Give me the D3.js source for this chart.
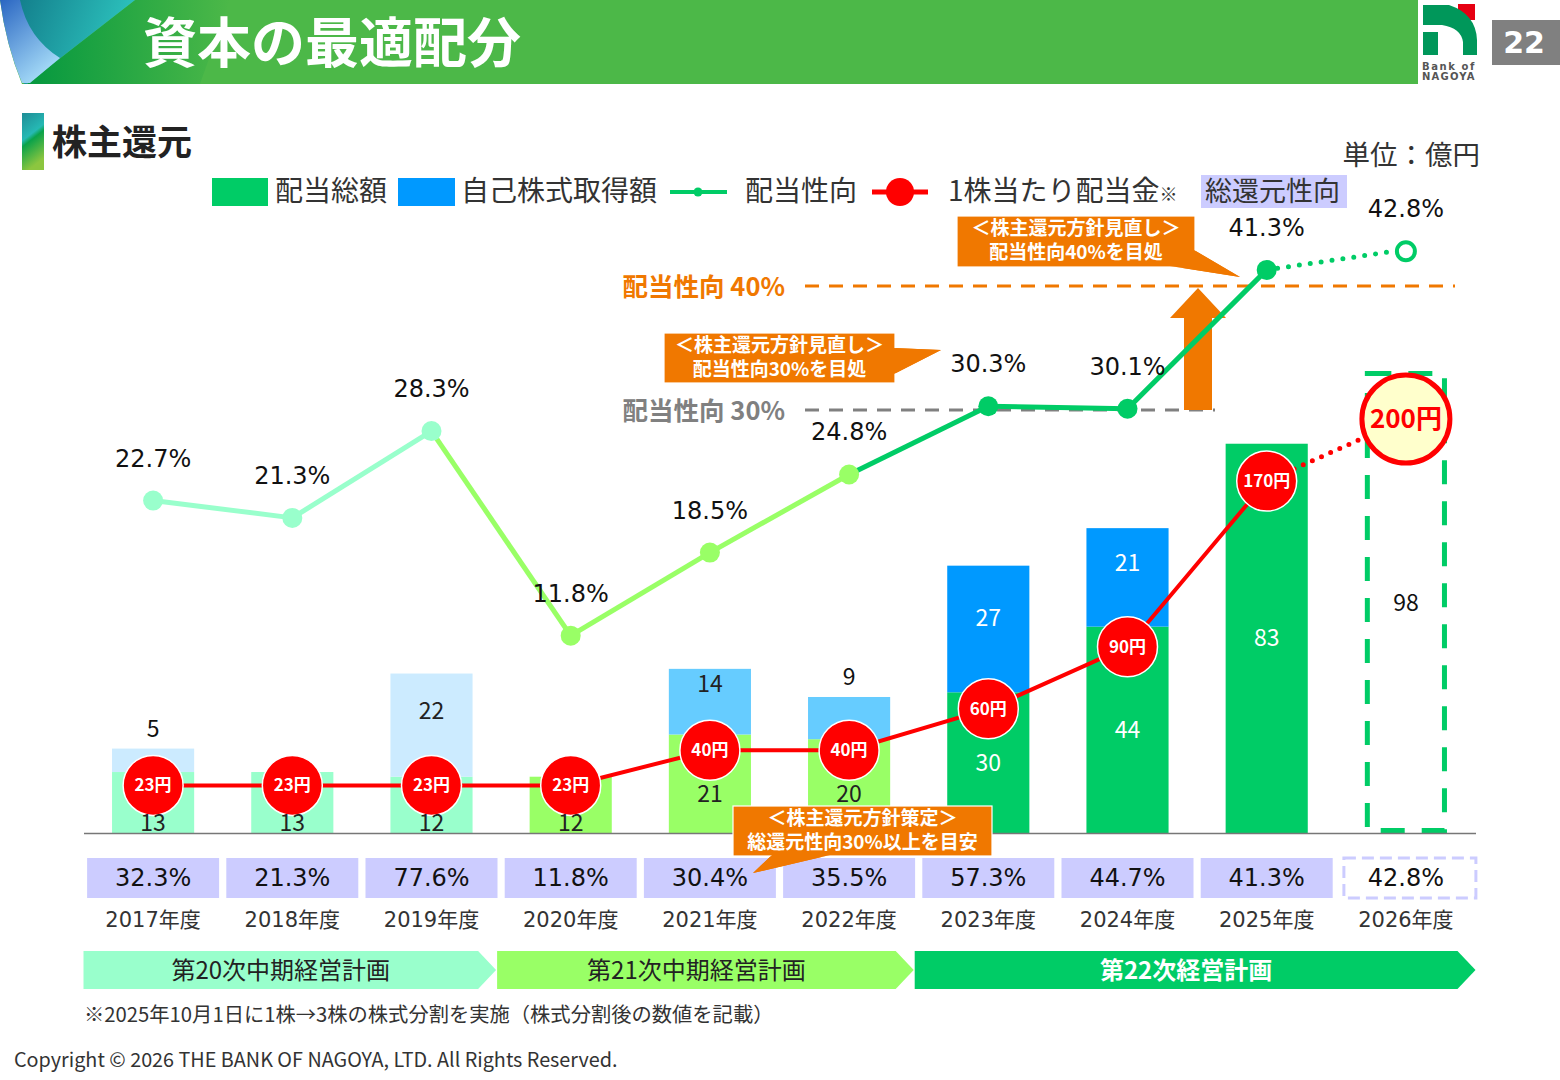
<!DOCTYPE html>
<html>
<head>
<meta charset="utf-8">
<script src="https://cdn.jsdelivr.net/npm/d3@7"></script>
<style>
  body { margin: 0; background: #fff; }
  text { font-family: 'Noto Sans CJK JP', sans-serif; }
  .num { font-family: 'DejaVu Sans', 'Noto Sans CJK JP', sans-serif; }
</style>
</head>
<body>
<script>
// データ
const years = ['2017年度', '2018年度', '2019年度', '2020年度', '2021年度', '2022年度', '2023年度', '2024年度', '2025年度', '2026年度'];
const dividendTotal = [13, 13, 12, 12, 21, 20, 30, 44, 83, 98];      // 配当総額（億円）
const buyback = [5, 0, 22, 0, 14, 9, 27, 21, 0, 0];                   // 自己株式取得額（億円）
const payoutRatio = [22.7, 21.3, 28.3, 11.8, 18.5, 24.8, 30.3, 30.1, 41.3, 42.8]; // 配当性向（%）
const dps = [23, 23, 23, 23, 40, 40, 60, 90, 170, 200];               // 1株当たり配当金（円）
const totalReturnRatio = [32.3, 21.3, 77.6, 11.8, 30.4, 35.5, 57.3, 44.7, 41.3, 42.8]; // 総還元性向（%）
const planOf = [20, 20, 20, 21, 21, 21, 22, 22, 22, 22];
const plans = [
  { name: '第20次中期経営計画', first: 0, last: 2 },
  { name: '第21次中期経営計画', first: 3, last: 5 },
  { name: '第22次経営計画', first: 6, last: 9 }
];
const forecastIndex = 9;
const targetLines = [
  { value: 40, label: '配当性向 40%' },
  { value: 30, label: '配当性向 30%' }
];

const colors = {
  20: { div: '#99FFCC', buy: '#CCEBFF', line: '#99FFCC', text: '#222' },
  21: { div: '#99FF66', buy: '#66CCFF', line: '#99FF66', text: '#222' },
  22: { div: '#00CC66', buy: '#0099FF', line: '#00CC66', text: '#fff' }
};
const orange = '#F07800';

// svg領域設定
const svgWidth = 1560;
const svgHeight = 1080;
const svg = d3.select('body')
  .append('svg')
  .attr('width', svgWidth)
  .attr('height', svgHeight);

const defs = svg.append('defs');
function grad(id, stops, x2, y2) {
  const g = defs.append('linearGradient').attr('id', id)
    .attr('x1', 0).attr('y1', 0).attr('x2', x2).attr('y2', y2);
  stops.forEach(([o, c]) => g.append('stop').attr('offset', o).attr('stop-color', c));
}
grad('gBlue', [[0, '#2a66c2'], [1, '#a6dcf8']], 0.6, 1);
grad('gTeal', [[0, '#137f8c'], [1, '#2ec6c0']], 1, 0.3);
grad('gGreen', [[0, '#05983f'], [1, '#4CB848']], 1, 0);
grad('gSide', [[0, '#1e8c96'], [0.45, '#26b9b4'], [0.55, '#0aa24a'], [1, '#8cc63f']], 0.3, 1);

// ヘッダー
const header = svg.append('g');
header.append('path').attr('d', 'M0,0 H1418 V84 H22 Q6,45 0,0 Z').attr('fill', '#4CB848');
header.append('path').attr('d', 'M135,0 L27,84 H200 L230,0 Z').attr('fill', 'url(#gGreen)');
header.append('path').attr('d', 'M18,0 H135 L27,84 H24 Z').attr('fill', 'url(#gTeal)');
header.append('path').attr('d', 'M0,0 H20 Q28,38 60,58 L30,83 H22 Q6,45 0,0 Z').attr('fill', 'url(#gBlue)');
header.append('text')
  .attr('x', 143).attr('y', 63)
  .attr('fill', '#fff').attr('font-size', 54).attr('font-weight', 700)
  .text('資本の最適配分');

// ロゴ
const logo = svg.append('g');
logo.append('rect').attr('x', 1458).attr('y', 4).attr('width', 17).attr('height', 16).attr('fill', '#E60012');
logo.append('path').attr('d', 'M1423,5 H1449 Q1476,14 1477,40 V55 H1463 V42 Q1461,28 1442,25 H1423 Z').attr('fill', '#00975A');
logo.append('rect').attr('x', 1423).attr('y', 32).attr('width', 15).attr('height', 23).attr('fill', '#00975A');
logo.append('text').attr('x', 1422).attr('y', 70).attr('font-size', 10).attr('font-weight', 700)
  .attr('letter-spacing', 1.6).attr('fill', '#555').attr('class', 'num').text('Bank of');
logo.append('text').attr('x', 1422).attr('y', 80).attr('font-size', 10).attr('font-weight', 700)
  .attr('letter-spacing', 1.2).attr('fill', '#555').attr('class', 'num').text('NAGOYA');
svg.append('rect').attr('x', 1492).attr('y', 20).attr('width', 68).attr('height', 45).attr('fill', '#808080');
svg.append('text').attr('x', 1524).attr('y', 53).attr('text-anchor', 'middle')
  .attr('fill', '#fff').attr('font-size', 30).attr('font-weight', 700).attr('class', 'num').text('22');

// 見出し
svg.append('rect').attr('x', 22).attr('y', 113).attr('width', 22).attr('height', 57).attr('fill', 'url(#gSide)');
svg.append('text').attr('x', 52).attr('y', 155).attr('font-size', 35).attr('font-weight', 700)
  .attr('fill', '#222').text('株主還元');
svg.append('text').attr('x', 1480).attr('y', 165).attr('text-anchor', 'end').attr('font-size', 27.5)
  .attr('fill', '#333').text('単位：億円');

// スケール
const x = d3.scaleBand().domain(years).range([83.5, 1475.5]).paddingInner(0.41).paddingOuter(0.205);
const cx = i => x(years[i]) + x.bandwidth() / 2;
const yBar = d3.scaleLinear().domain([0, 100]).range([833, 364]);
const yPct = d3.scaleLinear().domain([0, 50]).range([782, 162]);
const yDps = d3.scaleLinear().domain([0, 200]).range([833, 419]);

const table = years.map((year, i) => ({ year, i, div: dividendTotal[i], buy: buyback[i], plan: planOf[i] }));
const actual = table.filter(d => d.i !== forecastIndex);
const stack = d3.stack().keys(['div', 'buy'])(actual);

// 棒グラフ
const bars = svg.append('g');
stack.forEach(layer => {
  bars.selectAll(null)
    .data(layer.filter(s => s.data[layer.key] > 0))
    .join('rect')
    .attr('x', s => x(s.data.year))
    .attr('width', x.bandwidth())
    .attr('y', s => yBar(s[1]))
    .attr('height', s => yBar(s[0]) - yBar(s[1]))
    .attr('fill', s => colors[s.data.plan][layer.key]);
});
// 予想（点線枠）
const fc = table[forecastIndex];
bars.append('rect')
  .attr('x', x(fc.year) + 2.5)
  .attr('width', x.bandwidth() - 5)
  .attr('y', yBar(fc.div))
  .attr('height', yBar(0) - yBar(fc.div) - 2.5)
  .attr('fill', 'none')
  .attr('stroke', colors[22].div)
  .attr('stroke-width', 5)
  .attr('stroke-dasharray', '24 17');

// 軸線
svg.append('g')
  .attr('transform', 'translate(0,833)')
  .call(d3.axisBottom(x).tickSize(0).tickFormat(''))
  .call(g => g.select('.domain').attr('stroke', '#777').attr('stroke-width', 1.5));

// 目標ライン
const target = svg.append('g');
targetLines.forEach(t => {
  const c = t.value === 40 ? orange : '#808080';
  const end = t.value === 40 ? 1455 : 1215;
  target.append('line')
    .attr('x1', 805).attr('x2', end)
    .attr('y1', yPct(t.value)).attr('y2', yPct(t.value))
    .attr('stroke', c).attr('stroke-width', 3).attr('stroke-dasharray', '14 10');
  target.append('text')
    .attr('x', 785).attr('y', yPct(t.value) + 10)
    .attr('text-anchor', 'end').attr('font-size', 25.5).attr('font-weight', 700)
    .attr('fill', c).text(t.label);
});
// 上向き矢印
target.append('path')
  .attr('d', `M1184,${yPct(30)} V318 H1170 L1198,288 L1226,318 H1212 V${yPct(30)} Z`)
  .attr('fill', orange);

// 配当性向ライン
const pct = svg.append('g');
for (let i = 1; i < forecastIndex; i++) {
  pct.append('line')
    .attr('x1', cx(i - 1)).attr('y1', yPct(payoutRatio[i - 1]))
    .attr('x2', cx(i)).attr('y2', yPct(payoutRatio[i]))
    .attr('stroke', colors[planOf[i]].line).attr('stroke-width', 5);
}
pct.append('line')
  .attr('x1', cx(forecastIndex - 1)).attr('y1', yPct(payoutRatio[forecastIndex - 1]))
  .attr('x2', cx(forecastIndex) - 12).attr('y2', yPct(payoutRatio[forecastIndex]))
  .attr('stroke', colors[22].line).attr('stroke-width', 5)
  .attr('stroke-linecap', 'round').attr('stroke-dasharray', '0 11');
pct.selectAll('circle.p')
  .data(payoutRatio.slice(0, forecastIndex))
  .join('circle')
  .attr('cx', (d, i) => cx(i)).attr('cy', d => yPct(d)).attr('r', 10)
  .attr('fill', (d, i) => colors[planOf[i]].line);
pct.append('circle')
  .attr('cx', cx(forecastIndex)).attr('cy', yPct(payoutRatio[forecastIndex])).attr('r', 9)
  .attr('fill', '#fff').attr('stroke', colors[22].line).attr('stroke-width', 4);
pct.selectAll('text')
  .data(payoutRatio)
  .join('text')
  .attr('class', 'num')
  .attr('x', (d, i) => cx(i)).attr('y', d => yPct(d) - 34)
  .attr('text-anchor', 'middle').attr('font-size', 24).attr('fill', '#111')
  .text(d => d.toFixed(1) + '%');

// 1株当たり配当金ライン
const dpsG = svg.append('g');
dpsG.append('path')
  .datum(dps.slice(0, forecastIndex))
  .attr('d', d3.line().x((d, i) => cx(i)).y(d => yDps(d)))
  .attr('fill', 'none').attr('stroke', '#FF0000').attr('stroke-width', 4);
dpsG.append('line')
  .attr('x1', cx(forecastIndex - 1)).attr('y1', yDps(dps[forecastIndex - 1]))
  .attr('x2', cx(forecastIndex)).attr('y2', yDps(dps[forecastIndex]))
  .attr('stroke', '#FF0000').attr('stroke-width', 5)
  .attr('stroke-linecap', 'round').attr('stroke-dasharray', '0 10');

// 棒ラベル
const labels = svg.append('g').attr('class', 'num').attr('font-size', 23).attr('text-anchor', 'middle');
actual.forEach(d => {
  const cyD = yDps(dps[d.i]);
  const mid = (yBar(0) + yBar(d.div)) / 2;
  const yDiv = Math.min(823, Math.max(mid, cyD + 44));
  labels.append('text').attr('x', cx(d.i)).attr('y', yDiv + 8)
    .attr('fill', colors[d.plan].text).text(d.div);
  if (d.buy > 0) {
    const top = yBar(d.div + d.buy);
    const h = yBar(d.div) - top;
    const yBuy = h < 45 ? top - 20 : top + (h - 40) * 0.6;
    labels.append('text').attr('x', cx(d.i)).attr('y', yBuy + 8)
      .attr('fill', h < 45 ? '#111' : colors[d.plan].text).text(d.buy);
  }
});
labels.append('text').attr('x', cx(forecastIndex)).attr('y', yBar(fc.div / 2) + 8)
  .attr('fill', '#111').text(fc.div);

// 配当金マーカー
dpsG.selectAll('circle.d')
  .data(dps.slice(0, forecastIndex))
  .join('circle')
  .attr('cx', (d, i) => cx(i)).attr('cy', d => yDps(d)).attr('r', 30)
  .attr('fill', '#FF0000').attr('stroke', '#fff').attr('stroke-width', 1.5);
dpsG.selectAll('text.d')
  .data(dps.slice(0, forecastIndex))
  .join('text')
  .attr('x', (d, i) => cx(i)).attr('y', d => yDps(d) + 6)
  .attr('text-anchor', 'middle').attr('font-size', 17).attr('font-weight', 700)
  .attr('fill', '#fff').text(d => d + '円');
dpsG.append('circle')
  .attr('cx', cx(forecastIndex)).attr('cy', yDps(dps[forecastIndex])).attr('r', 44)
  .attr('fill', '#FFFFCC').attr('stroke', '#FF0000').attr('stroke-width', 5);
dpsG.append('text')
  .attr('x', cx(forecastIndex)).attr('y', yDps(dps[forecastIndex]) + 9)
  .attr('text-anchor', 'middle').attr('font-size', 26).attr('font-weight', 700)
  .attr('fill', '#FF0000').text(dps[forecastIndex] + '円');

// 総還元性向
const trr = svg.append('g');
const boxW = 132;
trr.selectAll('rect')
  .data(totalReturnRatio)
  .join('rect')
  .attr('x', (d, i) => cx(i) - boxW / 2 + (i === forecastIndex ? 4 : 0))
  .attr('y', 858).attr('width', boxW).attr('height', 40)
  .attr('fill', (d, i) => i === forecastIndex ? '#fff' : '#CCCCFF')
  .attr('stroke', (d, i) => i === forecastIndex ? '#CCCCFF' : 'none')
  .attr('stroke-width', 3).attr('stroke-dasharray', '12 6');
trr.selectAll('text')
  .data(totalReturnRatio)
  .join('text')
  .attr('class', 'num')
  .attr('x', (d, i) => cx(i)).attr('y', 886)
  .attr('text-anchor', 'middle').attr('font-size', 24).attr('fill', '#111')
  .text(d => d.toFixed(1) + '%');

// 年度ラベル
svg.append('g').selectAll('text')
  .data(years)
  .join('text')
  .attr('class', 'num')
  .attr('x', d => x(d) + x.bandwidth() / 2).attr('y', 927)
  .attr('text-anchor', 'middle').attr('font-size', 21).attr('fill', '#333')
  .text(d => d);

// 計画期間の矢印
const step = x.step();
const planG = svg.append('g');
plans.forEach((p, k) => {
  const x0 = k === 0 ? cx(p.first) - step / 2 : cx(p.first) - step / 2 - 4;
  const x1 = k === plans.length - 1 ? cx(p.last) + step / 2 : cx(p.last) + step / 2 - 5;
  const y0 = 951, y1 = 989, tip = 18;
  const c = colors[planOf[p.first]];
  planG.append('path')
    .attr('d', `M${x0},${y0} H${x1 - tip} L${x1},${(y0 + y1) / 2} L${x1 - tip},${y1} H${x0} Z`)
    .attr('fill', c.div);
  planG.append('text')
    .attr('x', (x0 + x1 - tip) / 2).attr('y', 979)
    .attr('text-anchor', 'middle').attr('font-size', 24)
    .attr('font-weight', k === 2 ? 700 : 400)
    .attr('fill', k === 2 ? '#fff' : '#222')
    .text(p.name);
});

// 吹き出し
function callout(bx, by, bw, bh, lines, pointer) {
  const g = svg.append('g');
  g.append('path').attr('d', pointer).attr('fill', orange);
  g.append('rect').attr('x', bx).attr('y', by).attr('width', bw).attr('height', bh)
    .attr('fill', orange).attr('stroke', '#fff').attr('stroke-width', 1.2);
  g.append('path').attr('d', pointer).attr('fill', orange);
  lines.forEach((t, j) => {
    g.append('text')
      .attr('x', bx + bw / 2).attr('y', by + 19 + j * 24)
      .attr('text-anchor', 'middle').attr('font-size', 19).attr('font-weight', 700)
      .attr('fill', '#fff').text(t);
  });
}
callout(664, 333, 231, 50, ['＜株主還元方針見直し＞', '配当性向30%を目処'],
  'M894,348 L941,350 L894,374 Z');
callout(957, 216, 238, 51, ['＜株主還元方針見直し＞', '配当性向40%を目処'],
  'M1194,250 L1240,277 L1170,266 Z');
callout(733, 806, 259, 50, ['＜株主還元方針策定＞', '総還元性向30%以上を目安'],
  'M772,855 L753,873 L830,855 Z');

// 凡例
const legend = svg.append('g').attr('font-size', 28).attr('fill', '#333');
legend.append('rect').attr('x', 212).attr('y', 178).attr('width', 56).attr('height', 28).attr('fill', colors[22].div);
legend.append('text').attr('x', 275).attr('y', 201).text('配当総額');
legend.append('rect').attr('x', 398).attr('y', 178).attr('width', 57).attr('height', 28).attr('fill', colors[22].buy);
legend.append('text').attr('x', 461).attr('y', 201).text('自己株式取得額');
legend.append('line').attr('x1', 670).attr('x2', 727).attr('y1', 192).attr('y2', 192)
  .attr('stroke', colors[22].line).attr('stroke-width', 4);
legend.append('circle').attr('cx', 698).attr('cy', 192).attr('r', 4.5).attr('fill', colors[22].line);
legend.append('text').attr('x', 745).attr('y', 201).text('配当性向');
legend.append('line').attr('x1', 872).attr('x2', 928).attr('y1', 192).attr('y2', 192)
  .attr('stroke', '#FF0000').attr('stroke-width', 5);
legend.append('circle').attr('cx', 900).attr('cy', 192).attr('r', 14).attr('fill', '#FF0000');
const dl = legend.append('text').attr('x', 948).attr('y', 201);
dl.append('tspan').text('1株当たり配当金');
dl.append('tspan').attr('font-size', 18).text('※');
legend.append('rect').attr('x', 1201).attr('y', 175).attr('width', 146).attr('height', 33).attr('fill', '#CCCCFF');
legend.append('text').attr('x', 1205).attr('y', 201).attr('font-size', 27).text('総還元性向');

// 注記
svg.append('text').attr('x', 84).attr('y', 1022).attr('font-size', 20.3).attr('fill', '#333')
  .text('※2025年10月1日に1株→3株の株式分割を実施（株式分割後の数値を記載）');
svg.append('text').attr('x', 14).attr('y', 1067).attr('font-size', 19.8).attr('fill', '#333')
  .text('Copyright © 2026 THE BANK OF NAGOYA, LTD. All Rights Reserved.');
</script>
</body>
</html>
